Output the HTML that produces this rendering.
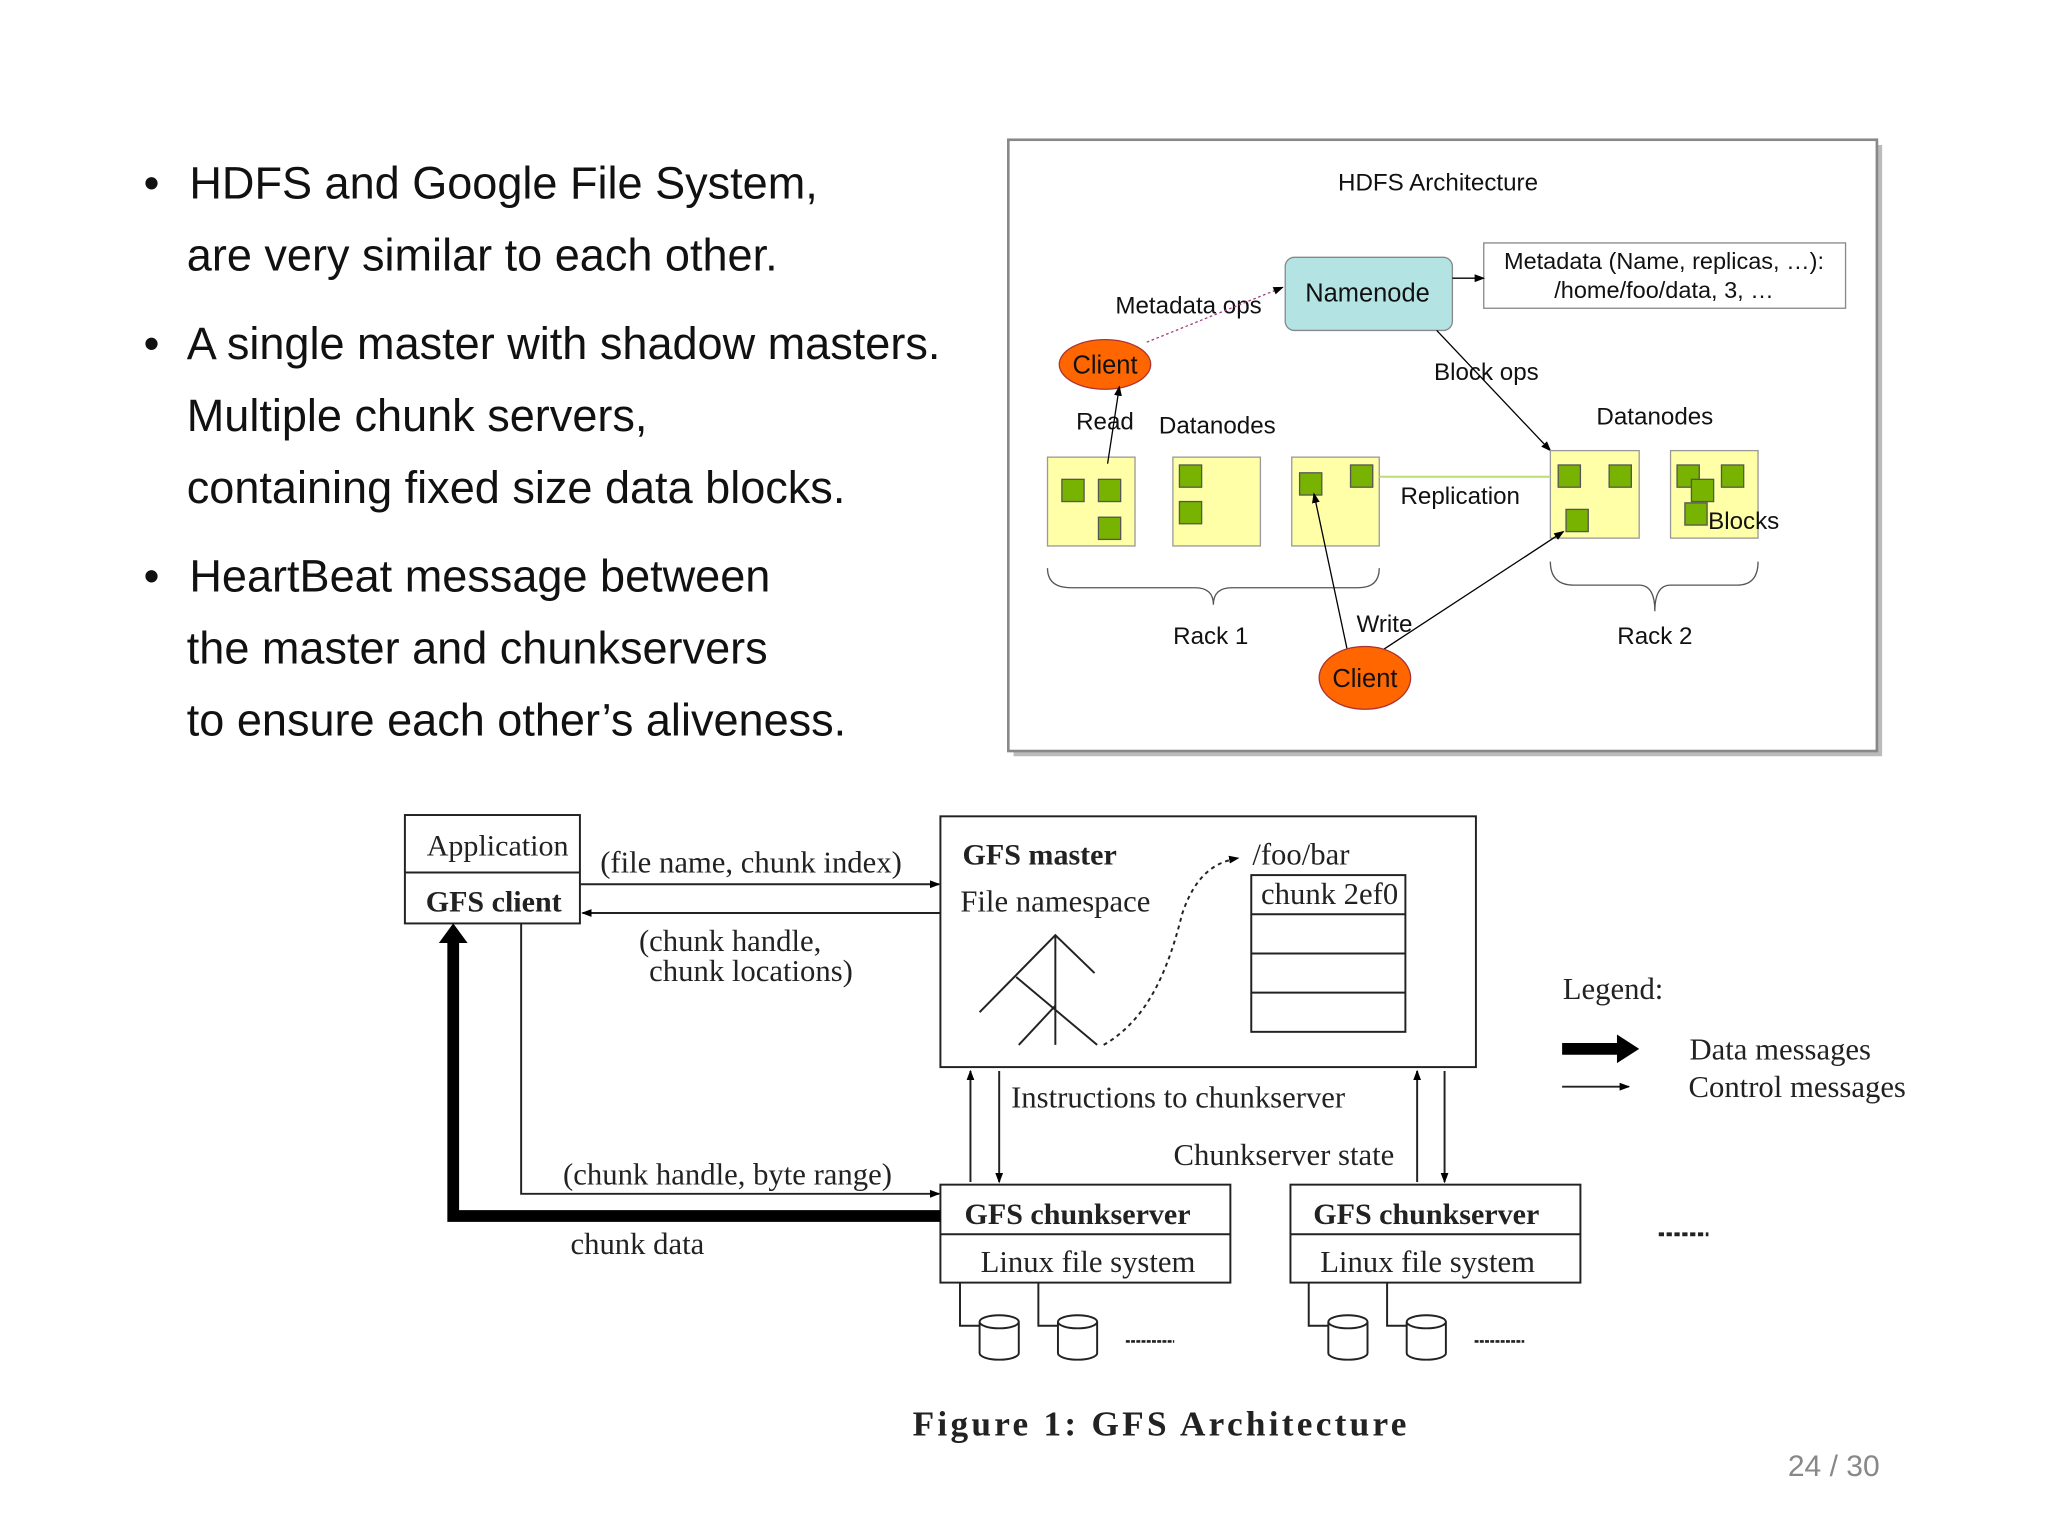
<!DOCTYPE html>
<html><head><meta charset="utf-8"><style>
html,body{margin:0;padding:0;background:#fff;}
svg{display:block;}
.s{font-family:"Liberation Sans",sans-serif;}
.r{font-family:"Liberation Serif",serif;}
</style></head><body>
<svg width="2048" height="1536" viewBox="0 0 1568 1176" xmlns="http://www.w3.org/2000/svg">
<defs>
<marker id="a" markerWidth="8" markerHeight="8" refX="7" refY="4" orient="auto" markerUnits="userSpaceOnUse"><path d="M0,1 L8,4 L0,7 z" fill="#000"/></marker>
</defs>
<rect width="1568" height="1176" fill="#fff"/>
<g class="s" font-size="34.5" fill="#111">
<text x="110" y="152">•</text><text x="145" y="152">HDFS and Google File System,</text>
<text x="143" y="207">are very similar to each other.</text>
<text x="110" y="275">•</text><text x="143" y="275">A single master with shadow masters.</text>
<text x="143" y="330">Multiple chunk servers,</text>
<text x="143" y="385">containing fixed size data blocks.</text>
<text x="110" y="453">•</text><text x="145" y="453">HeartBeat message between</text>
<text x="143" y="508">the master and chunkservers</text>
<text x="143" y="563">to ensure each other’s aliveness.</text>
</g>
<rect x="776" y="111" width="665" height="468" fill="#bbb"/>
<rect x="772" y="107" width="665" height="468" fill="#fff" stroke="#888" stroke-width="2"/>
<g class="s" fill="#111">
<text x="1101" y="146" font-size="18.5" text-anchor="middle">HDFS Architecture</text>
<rect x="984" y="197" width="128" height="56" rx="7" fill="#b3e3e3" stroke="#888"/>
<text x="1047" y="231" font-size="19.5" text-anchor="middle">Namenode</text>
<rect x="1136" y="186" width="277" height="50" fill="#fff" stroke="#888"/>
<text x="1274" y="206" font-size="18" text-anchor="middle">Metadata (Name, replicas, …):</text>
<text x="1274" y="228" font-size="18" text-anchor="middle">/home/foo/data, 3, …</text>
<line x1="1112" y1="213" x2="1136" y2="213" stroke="#000" marker-end="url(#a)"/>
<text x="910" y="240" font-size="18.5" text-anchor="middle">Metadata ops</text>
<line x1="878" y1="262" x2="982" y2="220" stroke="#a04080" stroke-dasharray="2,2" marker-end="url(#a)"/>
<ellipse cx="846" cy="279" rx="35" ry="19" fill="#ff6600" stroke="#a33"/>
<text x="846" y="286" font-size="19.5" text-anchor="middle">Client</text>
<text x="1138" y="291" font-size="18.5" text-anchor="middle">Block ops</text>
<line x1="1100" y1="253" x2="1187" y2="345" stroke="#000" marker-end="url(#a)"/>
<text x="846" y="329" font-size="18.5" text-anchor="middle">Read</text>
<text x="932" y="332" font-size="18.5" text-anchor="middle">Datanodes</text>
<text x="1267" y="325" font-size="18.5" text-anchor="middle">Datanodes</text>
<g fill="#ffffa8" stroke="#999">
<rect x="802" y="350" width="67" height="68"/><rect x="898" y="350" width="67" height="68"/>
<rect x="989" y="350" width="67" height="68"/><rect x="1187" y="345" width="68" height="67"/>
<rect x="1279" y="345" width="67" height="67"/>
</g>
<g fill="#77b300" stroke="#555">
<rect x="813" y="367" width="17" height="17"/><rect x="841" y="367" width="17" height="17"/><rect x="841" y="396" width="17" height="17"/>
<rect x="903" y="356" width="17" height="17"/><rect x="903" y="384" width="17" height="17"/>
<rect x="995" y="362" width="17" height="17"/><rect x="1034" y="356" width="17" height="17"/>
<rect x="1193" y="356" width="17" height="17"/><rect x="1232" y="356" width="17" height="17"/><rect x="1199" y="390" width="17" height="17"/>
<rect x="1284" y="356" width="17" height="17"/><rect x="1318" y="356" width="17" height="17"/><rect x="1295" y="367" width="17" height="17"/><rect x="1290" y="385" width="17" height="17"/>
</g>
<text x="1335" y="405" font-size="18.5" text-anchor="middle">Blocks</text>
<text x="1118" y="386" font-size="18.5" text-anchor="middle">Replication</text>
<line x1="1056" y1="365" x2="1187" y2="365" stroke="#bbdd77" stroke-width="1.5"/>
<path d="M802,435 Q802,450 820,450 L915,450 Q929,450 929,463 Q929,450 943,450 L1040,450 Q1056,450 1056,435" fill="none" stroke="#555"/>
<path d="M1187,430 Q1187,448 1205,448 L1255,448 Q1267,448 1267,468 Q1267,448 1279,448 L1330,448 Q1346,448 1346,430" fill="none" stroke="#555"/>
<text x="927" y="493" font-size="18.5" text-anchor="middle">Rack 1</text>
<text x="1267" y="493" font-size="18.5" text-anchor="middle">Rack 2</text>
<text x="1060" y="484" font-size="18.5" text-anchor="middle">Write</text>
<line x1="848" y1="355" x2="857" y2="296" stroke="#000" marker-end="url(#a)"/>
<line x1="1032" y1="500" x2="1006" y2="378" stroke="#000" marker-end="url(#a)"/>
<line x1="1055" y1="500" x2="1197" y2="407" stroke="#000" marker-end="url(#a)"/>
<ellipse cx="1045" cy="519" rx="35" ry="24" fill="#ff6600" stroke="#a33"/>
<text x="1045" y="526" font-size="19.5" text-anchor="middle">Client</text>
</g>
<g class="r" fill="#222" stroke-width="1.5">
<rect x="310" y="624" width="134" height="83" fill="none" stroke="#222"/>
<line x1="310" y1="668" x2="444" y2="668" stroke="#222"/>
<text x="381" y="655" font-size="23" text-anchor="middle">Application</text>
<text x="378" y="698" font-size="23" font-weight="bold" text-anchor="middle">GFS client</text>
<line x1="444" y1="677" x2="719" y2="677" stroke="#222" marker-end="url(#a)"/>
<text x="575" y="668" font-size="23.5" text-anchor="middle">(file name, chunk index)</text>
<line x1="720" y1="699" x2="446" y2="699" stroke="#222" marker-end="url(#a)"/>
<text x="559" y="728" font-size="23.5" text-anchor="middle">(chunk handle,</text>
<text x="575" y="751" font-size="23.5" text-anchor="middle">chunk locations)</text>
<rect x="720" y="625" width="410" height="192" fill="none" stroke="#222"/>
<text x="796" y="662" font-size="23" font-weight="bold" text-anchor="middle">GFS master</text>
<text x="808" y="698" font-size="23.5" text-anchor="middle">File namespace</text>
<text x="996" y="662" font-size="23.5" text-anchor="middle">/foo/bar</text>
<rect x="958" y="670" width="118" height="120" fill="none" stroke="#222"/>
<line x1="958" y1="700" x2="1076" y2="700" stroke="#222"/>
<line x1="958" y1="730" x2="1076" y2="730" stroke="#222"/>
<line x1="958" y1="760" x2="1076" y2="760" stroke="#222"/>
<text x="1018" y="692" font-size="23.5" text-anchor="middle">chunk 2ef0</text>
<path d="M750,775 L808,716 L838,745 M778,748 L840,800 M780,800 L808,770 M808,716 L808,800" fill="none" stroke="#222"/>
<path d="M845,800 C880,780 895,740 905,700 C915,670 930,660 948,657" fill="none" stroke="#222" stroke-dasharray="3,3" marker-end="url(#a)"/>
<line x1="743" y1="905" x2="743" y2="820" stroke="#222" marker-end="url(#a)"/>
<line x1="765" y1="820" x2="765" y2="905" stroke="#222" marker-end="url(#a)"/>
<text x="902" y="848" font-size="23.5" text-anchor="middle">Instructions to chunkserver</text>
<line x1="1085" y1="905" x2="1085" y2="820" stroke="#222" marker-end="url(#a)"/>
<line x1="1106" y1="820" x2="1106" y2="905" stroke="#222" marker-end="url(#a)"/>
<text x="983" y="892" font-size="23.5" text-anchor="middle">Chunkserver state</text>
<rect x="720" y="907" width="222" height="75" fill="none" stroke="#222"/>
<line x1="720" y1="945" x2="942" y2="945" stroke="#222"/>
<rect x="988" y="907" width="222" height="75" fill="none" stroke="#222"/>
<line x1="988" y1="945" x2="1210" y2="945" stroke="#222"/>
<text x="825" y="937" font-size="23" font-weight="bold" text-anchor="middle">GFS chunkserver</text>
<text x="833" y="974" font-size="23.5" text-anchor="middle">Linux file system</text>
<text x="1092" y="937" font-size="23" font-weight="bold" text-anchor="middle">GFS chunkserver</text>
<text x="1093" y="974" font-size="23.5" text-anchor="middle">Linux file system</text>
<path d="M720,931 L347,931 L347,720" fill="none" stroke="#000" stroke-width="9"/>
<path d="M336,722 L347,707 L358,722 z" fill="#000"/>
<path d="M399,707 L399,914 L719,914" fill="none" stroke="#222" marker-end="url(#a)"/>
<text x="557" y="907" font-size="23.5" text-anchor="middle">(chunk handle, byte range)</text>
<text x="488" y="960" font-size="23.5" text-anchor="middle">chunk data</text>
<g fill="none" stroke="#222">
<path d="M735,982 V1015 H750 M795,982 V1015 H810 M1002,982 V1015 H1017 M1062,982 V1015 H1077"/>
<path d="M750,1012 v24 a15,5 0 0 0 30,0 v-24 a15,5 0 0 0 -30,0 a15,5 0 0 0 30,0"/>
<path d="M810,1012 v24 a15,5 0 0 0 30,0 v-24 a15,5 0 0 0 -30,0 a15,5 0 0 0 30,0"/>
<path d="M1017,1012 v24 a15,5 0 0 0 30,0 v-24 a15,5 0 0 0 -30,0 a15,5 0 0 0 30,0"/>
<path d="M1077,1012 v24 a15,5 0 0 0 30,0 v-24 a15,5 0 0 0 -30,0 a15,5 0 0 0 30,0"/>
</g>
<line x1="862" y1="1027" x2="899" y2="1027" stroke="#222" stroke-width="2" stroke-dasharray="3,1"/>
<line x1="1129" y1="1027" x2="1167" y2="1027" stroke="#222" stroke-width="2" stroke-dasharray="3,1"/>
<line x1="1270" y1="945" x2="1308" y2="945" stroke="#222" stroke-width="3" stroke-dasharray="4,2"/>
<text x="1235" y="765" font-size="23.5" text-anchor="middle">Legend:</text>
<line x1="1196" y1="803" x2="1240" y2="803" stroke="#000" stroke-width="9"/>
<path d="M1238,792 L1255,803 L1238,814 z" fill="#000"/>
<line x1="1196" y1="832" x2="1247" y2="832" stroke="#222" marker-end="url(#a)"/>
<text x="1363" y="811" font-size="23.5" text-anchor="middle">Data messages</text>
<text x="1376" y="840" font-size="23.5" text-anchor="middle">Control messages</text>
<text x="889" y="1099" font-size="27" font-weight="bold" text-anchor="middle" letter-spacing="2.5">Figure 1: GFS Architecture</text>
</g>
<text x="1404" y="1130" class="s" font-size="23" fill="#888" text-anchor="middle">24 / 30</text>
</svg>
</body></html>
